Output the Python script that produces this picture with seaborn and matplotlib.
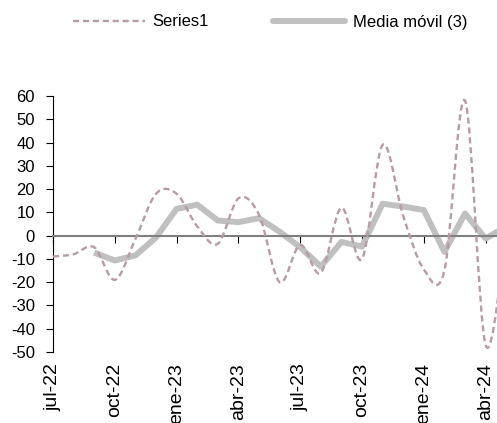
import numpy as np
import pandas as pd
import seaborn as sns
import matplotlib.pyplot as plt
from matplotlib.path import Path
from matplotlib.patches import PathPatch
from matplotlib.lines import Line2D

# datos mensuales
months = ['jul-22', 'ago-22', 'sep-22', 'oct-22', 'nov-22', 'dic-22',
          'ene-23', 'feb-23', 'mar-23', 'abr-23', 'may-23', 'jun-23',
          'jul-23', 'ago-23', 'sep-23', 'oct-23', 'nov-23', 'dic-23',
          'ene-24', 'feb-24', 'mar-24', 'abr-24', 'may-24']
series1 = [-9, -8, -5, -19, -1.5, 18, 18, 4, -3.5, 16, 9, -20,
           -4, -16, 12, -10, 39, 8.5, -14.5, -15, 58, -47, 1]
media_movil = [np.nan, np.nan, -7.3, -10.7, -8.5, -0.8, 11.5, 13.3, 6.5, 5.8, 7.5, 1.7,
               -5, -13.3, -2.7, -4.7, 13.7, 12.5, 11, -7, 9.5, -1.3, 4]
yticks = list(range(-50, 61, 10))

dash_color = '#B59CA5'
gray_color = '#C0C0C0'
dash_style = (0, (2.6, 1.6))

sns.set_theme(style="white", rc={"text.color": "black", "xtick.color": "black",
                                 "ytick.color": "black", "axes.edgecolor": "black"})
plt.rcParams['font.family'] = ['Liberation Sans', 'DejaVu Sans']
plt.rcParams['axes.unicode_minus'] = False

df = pd.DataFrame({"idx": np.arange(len(months)), "mes": months,
                   "serie": series1, "media": media_movil})

fig = plt.figure(figsize=(4.97, 4.23), dpi=100)
ax = fig.add_axes([53 / 497, 71 / 423, 463.5 / 497, 256 / 423])

# moving average line
sns.lineplot(data=df, x="idx", y="media", color=gray_color, lw=4.3, ax=ax,
             zorder=2, solid_joinstyle='round', solid_capstyle='butt')

# smoothed series (bezier like excel "smooth line")
x = df["idx"].values.astype(float)
y = df["serie"].values.astype(float)
n = len(x)
verts = [(x[0], y[0])]
codes = [Path.MOVETO]
for i in range(n - 1):
    a = i - 1 if i > 0 else i
    b = i + 2 if i + 2 < n else i + 1
    c1 = (x[i] + (x[i + 1] - x[a]) / 6, y[i] + (y[i + 1] - y[a]) / 6)
    c2 = (x[i + 1] - (x[b] - x[i]) / 6, y[i + 1] - (y[b] - y[i]) / 6)
    verts += [c1, c2, (x[i + 1], y[i + 1])]
    codes += [Path.CURVE4] * 3
ax.add_patch(PathPatch(Path(verts, codes), fill=False, edgecolor=dash_color,
                       lw=1.7, linestyle=dash_style, zorder=3, capstyle='butt'))

ax.set_xlim(0, 22.5)
ax.set_ylim(-50, 60)
ax.set_yticks(yticks)
ax.set_xlabel("")
ax.set_ylabel("")

ax.spines['top'].set_visible(False)
ax.spines['right'].set_visible(False)
ax.spines['bottom'].set_position(('data', 0))
ax.spines['bottom'].set_color('#808080')
ax.spines['bottom'].set_linewidth(1.5)
ax.spines['left'].set_linewidth(0.8)

ax.set_xticks(df["idx"].values[::3])
ax.tick_params(axis='x', bottom=True, direction='out', length=5, width=0.8,
               color='black', labelbottom=False)
ax.tick_params(axis='y', left=True, direction='out', length=5, width=0.8,
               labelsize=12, pad=8)

sec = ax.secondary_xaxis('bottom')
sec.set_xticks(df["idx"].values[::3], labels=months[::3])
sec.tick_params(length=0, labelrotation=90, labelsize=14, pad=8)
sec.spines['bottom'].set_visible(False)

handles = [Line2D([], [], color=dash_color, lw=1.7, ls=dash_style),
           Line2D([], [], color=gray_color, lw=4.3, solid_capstyle='round')]
fig.legend(handles, ['Series1', 'Media móvil (3)'], loc='center',
           bbox_to_anchor=(270 / 497, 1 - 22 / 423), ncol=2, frameon=False,
           fontsize=12, handlelength=4.3, handletextpad=0.45, columnspacing=3.9)

fig.savefig("out.png", dpi=100)
